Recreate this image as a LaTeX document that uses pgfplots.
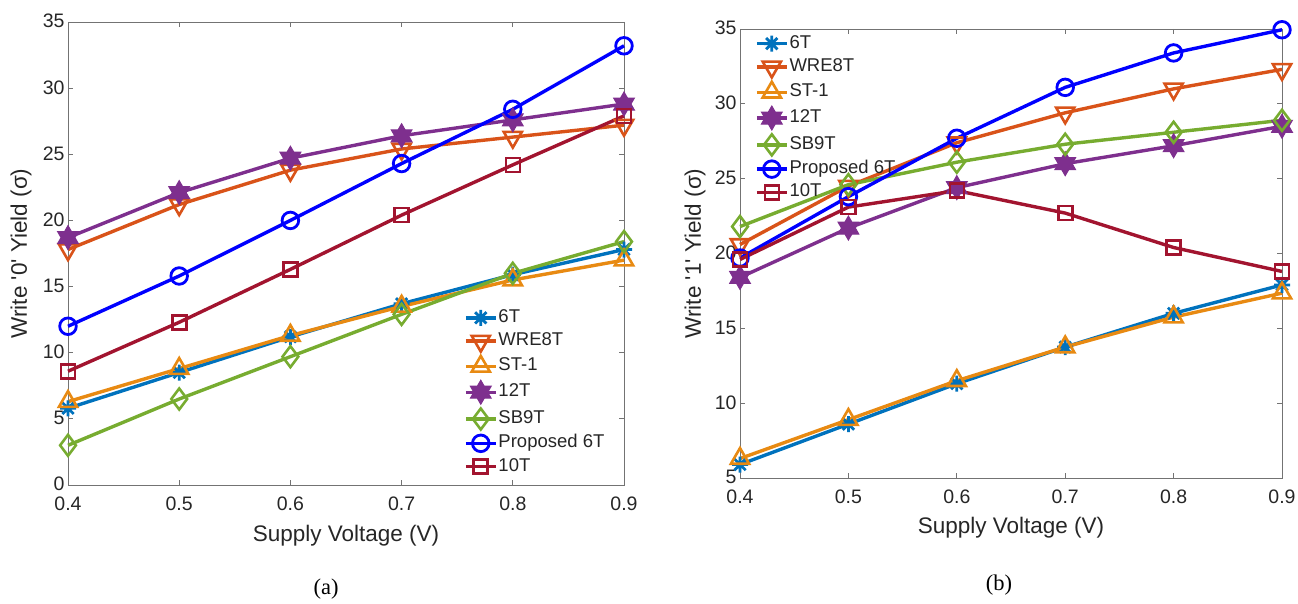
\documentclass[border=0pt]{standalone}
\usepackage{pgfplots}
\pgfplotsset{compat=1.18}
\usepackage{fontspec}
\setmainfont{Liberation Sans}
\newfontfamily\seriffont{Liberation Serif}
\definecolor{c6T}{HTML}{0072BD}
\definecolor{cWRE}{HTML}{D95319}
\definecolor{cST}{HTML}{E88A12}
\definecolor{c12T}{HTML}{7E2F8E}
\definecolor{cSB}{HTML}{77AC30}
\definecolor{cP}{HTML}{0000FF}
\definecolor{c10T}{HTML}{A2142F}
\definecolor{tc}{HTML}{262626}
\pgfdeclareplotmark{ast8}{%
  \pgfpathmoveto{\pgfqpoint{-\pgfplotmarksize}{0pt}}\pgfpathlineto{\pgfqpoint{\pgfplotmarksize}{0pt}}%
  \pgfpathmoveto{\pgfqpoint{0pt}{-\pgfplotmarksize}}\pgfpathlineto{\pgfqpoint{0pt}{\pgfplotmarksize}}%
  \pgfpathmoveto{\pgfqpoint{-.7071\pgfplotmarksize}{-.7071\pgfplotmarksize}}\pgfpathlineto{\pgfqpoint{.7071\pgfplotmarksize}{.7071\pgfplotmarksize}}%
  \pgfpathmoveto{\pgfqpoint{-.7071\pgfplotmarksize}{.7071\pgfplotmarksize}}\pgfpathlineto{\pgfqpoint{.7071\pgfplotmarksize}{-.7071\pgfplotmarksize}}%
  \pgfusepathqstroke}
\pgfdeclareplotmark{hexagram}{%
  \pgfpathmoveto{\pgfqpoint{0pt}{\pgfplotmarksize}}%
  \pgfpathlineto{\pgfqpoint{-.866\pgfplotmarksize}{-.5\pgfplotmarksize}}%
  \pgfpathlineto{\pgfqpoint{.866\pgfplotmarksize}{-.5\pgfplotmarksize}}%
  \pgfpathclose
  \pgfpathmoveto{\pgfqpoint{0pt}{-\pgfplotmarksize}}%
  \pgfpathlineto{\pgfqpoint{.866\pgfplotmarksize}{.5\pgfplotmarksize}}%
  \pgfpathlineto{\pgfqpoint{-.866\pgfplotmarksize}{.5\pgfplotmarksize}}%
  \pgfpathclose
  \pgfusepathqfillstroke}
\pgfplotsset{
  myax/.style={
    scale only axis, clip=false,
    xmin=0.4, xmax=0.9, xtick={0.4,0.5,0.6,0.7,0.8,0.9},
    tick align=inside, major tick length=5pt,
    axis line style={black!55, line width=0.8pt},
    every tick/.style={black!55, line width=0.8pt},
    tick label style={font=\fontsize{19.5}{22}\selectfont, text=tc},
    label style={font=\fontsize{22.5}{26}\selectfont, text=tc},
    /pgf/number format/assume math mode=true,
    yticklabel style={text height=13pt, text depth=1pt},
    xticklabel style={/pgf/number format/.cd, fixed, fixed zerofill, precision=1, /tikz/.cd, yshift=-8pt},
    legend cell align=left,
    legend image code/.code={\draw[mark repeat=2,mark phase=2] plot coordinates {(0pt,0pt)(15pt,0pt)(30pt,0pt)};},
    legend style={draw=none, fill=none, inner sep=0pt, font=\fontsize{18.5}{20}\selectfont, text=tc,
      nodes={inner sep=1pt, text height=13pt, text depth=4pt}, row sep=4.3pt},
  },
  s6T/.style={color=c6T, line width=3.4pt, mark=ast8, mark size=8pt, mark options={line width=2.8pt}},
  sWRE/.style={color=cWRE, line width=3.4pt, mark=triangle, mark size=10.5pt, mark options={line width=2.6pt, rotate=180}},
  sST/.style={color=cST, line width=3.4pt, mark=triangle, mark size=10.5pt, mark options={line width=2.6pt}},
  s12T/.style={color=c12T, line width=3.4pt, mark=hexagram, mark size=12pt, mark options={line width=1pt, fill=c12T}},
  sSB/.style={color=cSB, line width=3.4pt, mark=diamond, mark size=10.5pt, mark options={line width=2.6pt}},
  sP/.style={color=cP, line width=3.4pt, mark=o, mark size=8.3pt, mark options={line width=2.8pt}},
  s10T/.style={color=c10T, line width=3.4pt, mark=square, mark size=7pt, mark options={line width=2.6pt}},
}
\begin{document}
\begin{tikzpicture}
\path[use as bounding box] (0,0) rectangle (1298pt,604pt);
\begin{axis}[myax, at={(68pt,119pt)}, anchor=south west, width=556pt, height=463pt,
  ymin=0, ymax=35, ytick={0,5,10,15,20,25,30,35},
  xlabel={Supply Voltage (V)}, ylabel={Write \textquotesingle 0\textquotesingle{} Yield (σ)},
  xlabel style={at={(axis description cs:0.5,-0.110)}, anchor=center},
  ylabel style={at={(axis description cs:-0.0845,0.5)}, anchor=center},
  legend style={at={(axis description cs:0.712,0.382)}, anchor=north west}]
\addplot[s6T] coordinates {(0.4,5.8)(0.5,8.5)(0.6,11.2)(0.7,13.7)(0.8,15.9)(0.9,17.8)};
\addplot[sWRE] coordinates {(0.4,17.8)(0.5,21.2)(0.6,23.8)(0.7,25.4)(0.8,26.3)(0.9,27.2)};
\addplot[sST] coordinates {(0.4,6.3)(0.5,8.8)(0.6,11.3)(0.7,13.5)(0.8,15.5)(0.9,17.0)};
\addplot[s12T] coordinates {(0.4,18.7)(0.5,22.1)(0.6,24.7)(0.7,26.4)(0.8,27.6)(0.9,28.8)};
\addplot[sSB] coordinates {(0.4,3.0)(0.5,6.5)(0.6,9.7)(0.7,12.9)(0.8,16.0)(0.9,18.4)};
\addplot[sP] coordinates {(0.4,12.0)(0.5,15.8)(0.6,20.0)(0.7,24.3)(0.8,28.4)(0.9,33.2)};
\addplot[s10T] coordinates {(0.4,8.6)(0.5,12.3)(0.6,16.3)(0.7,20.4)(0.8,24.2)(0.9,27.9)};
\legend{6T,WRE8T,ST-1,12T,SB9T,Proposed 6T,10T}
\end{axis}
\begin{axis}[myax, at={(740pt,126pt)}, anchor=south west, width=542pt, height=449pt,
  ymin=5, ymax=35, ytick={5,10,15,20,25,30,35},
  xlabel={Supply Voltage (V)}, ylabel={Write \textquotesingle 1\textquotesingle{} Yield (σ)},
  xlabel style={at={(axis description cs:0.5,-0.111)}, anchor=center},
  ylabel style={at={(axis description cs:-0.083,0.5)}, anchor=center},
  legend style={at={(axis description cs:0.0275,0.989)}, anchor=north west}]
\addplot[s6T] coordinates {(0.4,5.9)(0.5,8.6)(0.6,11.3)(0.7,13.75)(0.8,16.0)(0.9,17.9)};
\addplot[sWRE] coordinates {(0.4,20.6)(0.5,24.5)(0.6,27.4)(0.7,29.4)(0.8,31.0)(0.9,32.3)};
\addplot[sST] coordinates {(0.4,6.3)(0.5,8.9)(0.6,11.5)(0.7,13.75)(0.8,15.75)(0.9,17.35)};
\addplot[s12T] coordinates {(0.4,18.4)(0.5,21.7)(0.6,24.4)(0.7,26.0)(0.8,27.2)(0.9,28.5)};
\addplot[sSB] coordinates {(0.4,21.8)(0.5,24.6)(0.6,26.1)(0.7,27.3)(0.8,28.1)(0.9,28.9)};
\addplot[sP] coordinates {(0.4,19.7)(0.5,23.8)(0.6,27.7)(0.7,31.1)(0.8,33.4)(0.9,34.95)};
\addplot[s10T] coordinates {(0.4,19.6)(0.5,23.1)(0.6,24.2)(0.7,22.7)(0.8,20.4)(0.9,18.8)};
\legend{6T,WRE8T,ST-1,12T,SB9T,Proposed 6T,10T}
\end{axis}
\node[font=\seriffont\fontsize{22.5}{26}\selectfont, text=black] at (326pt,15pt) {(a)};
\node[font=\seriffont\fontsize{22.5}{26}\selectfont, text=black] at (999pt,19pt) {(b)};
\end{tikzpicture}
\end{document}
